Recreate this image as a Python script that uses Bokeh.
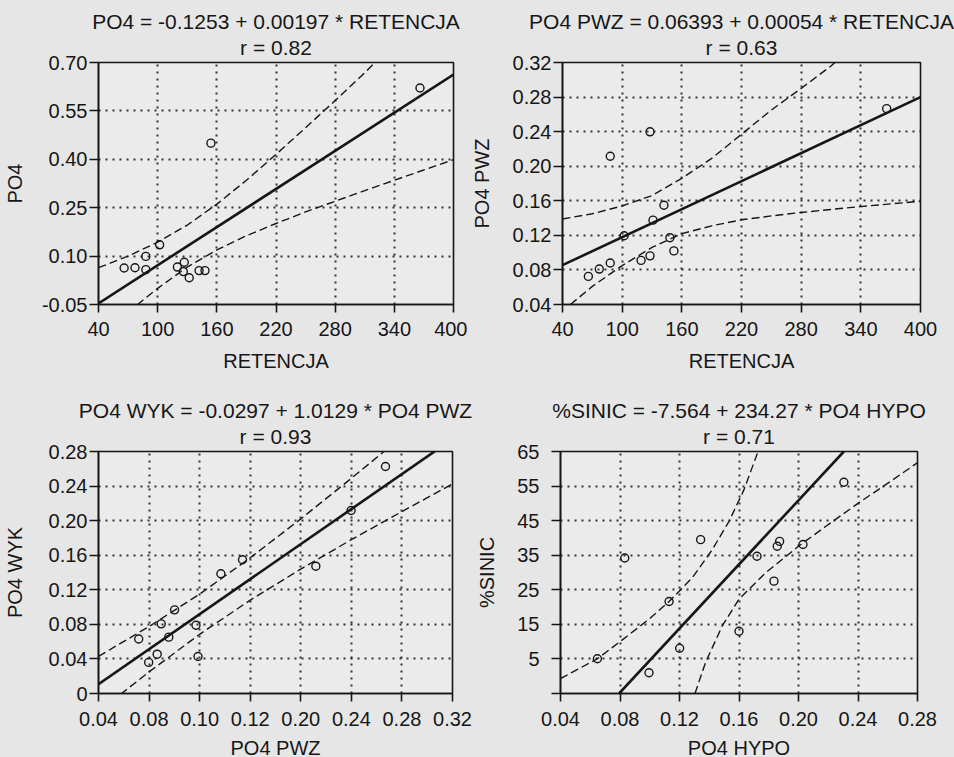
from bokeh.plotting import figure
from bokeh.models import FixedTicker, Title, Range1d
from bokeh.layouts import column, row
from bokeh.embed import file_html
from bokeh.resources import INLINE

FONT = "Liberation Sans"
INK = "#161616"
BG = "#e6e6e6"
PLOT_BG = "#ebebeb"

# ---------------- Panel 1: PO4 vs RETENCJA ----------------
p1_title = "PO4 = -0.1253 + 0.00197 * RETENCJA"
p1_r = "r = 0.82"
p1_xlabel = "RETENCJA"
p1_ylabel = "PO4"
p1_xticks = [40, 100, 160, 220, 280, 340, 400]
p1_xtick_labels = ["40", "100", "160", "220", "280", "340", "400"]
p1_yticks = [-0.05, 0.10, 0.25, 0.40, 0.55, 0.70]
p1_ytick_labels = ["-0.05", "0.10", "0.25", "0.40", "0.55", "0.70"]
p1_x = [66, 77, 88, 88, 102, 120, 127, 126, 132, 142, 148, 154, 366]
p1_y = [0.063, 0.064, 0.099, 0.058, 0.135, 0.066, 0.081, 0.052, 0.033, 0.055, 0.055, 0.45, 0.621]
p1_fit_x = [40, 400]
p1_fit_y = [-0.0465, 0.6627]
p1_up_x = [40, 70, 100, 130, 160, 190, 220, 250, 280, 310, 330]
p1_up_y = [0.064, 0.100, 0.143, 0.196, 0.261, 0.335, 0.415, 0.498, 0.582, 0.668, 0.73]
p1_lo_x = [70, 80, 100, 130, 160, 190, 220, 250, 280, 310, 340, 370, 400]
p1_lo_y = [-0.075, -0.049, 0.000, 0.066, 0.119, 0.163, 0.201, 0.237, 0.270, 0.303, 0.335, 0.367, 0.399]

# ---------------- Panel 2: PO4 PWZ vs RETENCJA ----------------
p2_title = "PO4 PWZ = 0.06393 + 0.00054 * RETENCJA"
p2_r = "r = 0.63"
p2_xlabel = "RETENCJA"
p2_ylabel = "PO4 PWZ"
p2_xticks = [40, 100, 160, 220, 280, 340, 400]
p2_xtick_labels = ["40", "100", "160", "220", "280", "340", "400"]
p2_yticks = [0.04, 0.08, 0.12, 0.16, 0.20, 0.24, 0.28, 0.32]
p2_ytick_labels = ["0.04", "0.08", "0.12", "0.16", "0.20", "0.24", "0.28", "0.32"]
p2_x = [66, 77, 88, 88, 102, 119, 128, 131, 128, 142, 148, 152, 366]
p2_y = [0.0725, 0.081, 0.088, 0.2115, 0.1196, 0.091, 0.0963, 0.1376, 0.2398, 0.1548, 0.1173, 0.102, 0.2666]
p2_fit_x = [40, 400]
p2_fit_y = [0.0855, 0.2799]
p2_up_x = [40, 70, 100, 130, 160, 190, 220, 250, 280, 310, 330]
p2_up_y = [0.139, 0.145, 0.154, 0.166, 0.186, 0.209, 0.237, 0.265, 0.290, 0.316, 0.337]
p2_lo_x = [48, 70, 100, 130, 160, 190, 220, 250, 280, 310, 340, 370, 400]
p2_lo_y = [0.040, 0.061, 0.085, 0.106, 0.122, 0.131, 0.138, 0.1425, 0.1465, 0.150, 0.1533, 0.1564, 0.1594]

# ---------------- Panel 3: PO4 WYK vs PO4 PWZ ----------------
p3_title = "PO4 WYK = -0.0297 + 1.0129 * PO4 PWZ"
p3_r = "r = 0.93"
p3_xlabel = "PO4 PWZ"
p3_ylabel = "PO4 WYK"
p3_xticks = [0.04, 0.08, 0.12, 0.16, 0.20, 0.24, 0.28, 0.32]
p3_xtick_labels = ["0.04", "0.08", "0.10", "0.12", "0.20", "0.24", "0.28", "0.32"]
p3_yticks = [0.0, 0.04, 0.08, 0.12, 0.16, 0.20, 0.24, 0.28]
p3_ytick_labels = ["0", "0.04", "0.08", "0.12", "0.16", "0.20", "0.24", "0.28"]
p3_x = [0.0718, 0.0797, 0.0864, 0.0896, 0.0956, 0.1002, 0.1171, 0.1187, 0.1368, 0.1539, 0.2119, 0.2398, 0.267]
p3_y = [0.063, 0.036, 0.0455, 0.0806, 0.0652, 0.0968, 0.079, 0.0428, 0.1385, 0.1548, 0.1473, 0.2117, 0.2627]
p3_fit_x = [0.04, 0.32]
p3_fit_y = [0.0108, 0.2944]
p3_up_x = [0.04, 0.08, 0.12, 0.16, 0.20, 0.24, 0.28]
p3_up_y = [0.043, 0.0775, 0.115, 0.157, 0.202, 0.249, 0.297]
p3_lo_x = [0.05, 0.08, 0.12, 0.16, 0.20, 0.24, 0.28, 0.32]
p3_lo_y = [-0.0095, 0.025, 0.0685, 0.108, 0.144, 0.178, 0.2105, 0.2425]

# ---------------- Panel 4: %SINIC vs PO4 HYPO ----------------
p4_title = "%SINIC = -7.564 + 234.27 * PO4 HYPO"
p4_r = "r = 0.71"
p4_xlabel = "PO4 HYPO"
p4_ylabel = "%SINIC"
p4_xticks = [0.04, 0.08, 0.12, 0.16, 0.20, 0.24, 0.28]
p4_xtick_labels = ["0.04", "0.08", "0.12", "0.16", "0.20", "0.24", "0.28"]
p4_yticks = [-5, 5, 15, 25, 35, 45, 55, 65]
p4_ytick_labels = ["", "5", "15", "25", "35", "45", "55", "65"]
p4_x = [0.0648, 0.0832, 0.0995, 0.113, 0.1201, 0.1342, 0.16, 0.1721, 0.1835, 0.1857, 0.1873, 0.203, 0.2305]
p4_y = [5.05, 34.2, 1.0, 21.6, 8.1, 39.5, 13.0, 34.7, 27.5, 37.6, 39.0, 38.1, 56.1]
p4_fit_x = [0.0794, 0.2305]
p4_fit_y = [-5.0, 65.0]
p4_up_x = [0.04, 0.0648, 0.08, 0.0995, 0.113, 0.1286, 0.142, 0.1533, 0.1633, 0.1723, 0.176]
p4_up_y = [-0.7, 5.05, 10.0, 16.5, 21.6, 28.5, 36.6, 44.8, 53.9, 64.4, 69.0]
p4_lo_x = [0.1304, 0.1376, 0.1488, 0.16, 0.1779, 0.20, 0.2182, 0.24, 0.263, 0.2808]
p4_lo_y = [-5.0, 4.1, 14.6, 22.3, 29.9, 37.6, 43.3, 50.0, 56.7, 62.0]


def make_panel(title, rline, xlabel, ylabel, xticks, xlabels, yticks, ylabels,
               px, py, fx, fy, ux, uy, lx, ly,
               frame_w, left, right, top, bottom,
               ylab_standoff, ytick_standoff, xtick_standoff, xlab_standoff):
    p = figure(frame_width=frame_w, frame_height=242,
               x_range=Range1d(xticks[0], xticks[-1]),
               y_range=Range1d(yticks[0], yticks[-1]),
               output_backend="svg", toolbar_location=None, title=None,
               min_border_left=left, min_border_right=right,
               min_border_top=top, min_border_bottom=bottom)
    p.border_fill_color = BG
    p.background_fill_color = PLOT_BG
    p.outline_line_color = INK
    p.outline_line_width = 1.6
    p.outline_line_alpha = 1.0

    for g in (p.xgrid[0], p.ygrid[0]):
        g.grid_line_color = "#202020"
        g.grid_line_width = 2
        g.grid_line_dash = "2 5"
        g.grid_line_alpha = 0.9

    p.xaxis.ticker = FixedTicker(ticks=xticks)
    p.yaxis.ticker = FixedTicker(ticks=yticks)
    p.xaxis.major_label_overrides = {t: s for t, s in zip(xticks, xlabels)}
    p.yaxis.major_label_overrides = {t: s for t, s in zip(yticks, ylabels)}

    for ax in (p.xaxis[0], p.yaxis[0]):
        ax.axis_line_color = INK
        ax.axis_line_width = 1.6
        ax.major_tick_line_color = INK
        ax.major_tick_line_width = 1.6
        ax.major_tick_in = 0
        ax.minor_tick_in = 0
        ax.minor_tick_out = 0
        ax.major_label_text_font = FONT
        ax.major_label_text_font_size = "20px"
        ax.major_label_text_color = INK
        ax.axis_label_text_font = FONT
        ax.axis_label_text_font_size = "20px"
        ax.axis_label_text_font_style = "normal"
        ax.axis_label_text_color = INK

    p.xaxis.major_tick_out = 8
    p.yaxis.major_tick_out = 9
    p.xaxis.axis_label = xlabel
    p.yaxis.axis_label = ylabel
    p.xaxis.major_label_standoff = xtick_standoff
    p.xaxis.axis_label_standoff = xlab_standoff
    p.yaxis.major_label_standoff = ytick_standoff
    p.yaxis.axis_label_standoff = ylab_standoff

    p.line(ux, uy, line_color=INK, line_width=1.4, line_dash="8 4")
    p.line(lx, ly, line_color=INK, line_width=1.4, line_dash="8 4")
    p.line(fx, fy, line_color=INK, line_width=2.6)
    p.scatter(px, py, marker="circle", size=8, fill_color=None,
              line_color=INK, line_width=1.4)

    p.add_layout(Title(text=rline, align="center", text_font=FONT,
                       text_font_size="21px", text_font_style="normal",
                       text_line_height=1.0, text_color=INK, standoff=8), "above")
    p.add_layout(Title(text=title, align="center", text_font=FONT,
                       text_font_size="21px", text_font_style="normal",
                       text_line_height=1.0, text_color=INK, standoff=-6), "above")
    return p


p1 = make_panel(p1_title, p1_r, p1_xlabel, p1_ylabel, p1_xticks, p1_xtick_labels,
                p1_yticks, p1_ytick_labels, p1_x, p1_y, p1_fit_x, p1_fit_y,
                p1_up_x, p1_up_y, p1_lo_x, p1_lo_y,
                355, 98, 14, 62, 76, 13, 2, 9, 11)
p2 = make_panel(p2_title, p2_r, p2_xlabel, p2_ylabel, p2_xticks, p2_xtick_labels,
                p2_yticks, p2_ytick_labels, p2_x, p2_y, p2_fit_x, p2_fit_y,
                p2_up_x, p2_up_y, p2_lo_x, p2_lo_y,
                358, 95, 34, 62, 76, 17, 2, 9, 11)
p3 = make_panel(p3_title, p3_r, p3_xlabel, p3_ylabel, p3_xticks, p3_xtick_labels,
                p3_yticks, p3_ytick_labels, p3_x, p3_y, p3_fit_x, p3_fit_y,
                p3_up_x, p3_up_y, p3_lo_x, p3_lo_y,
                354, 98, 21, 71, 64, 20, 2, 10, 8)
p4 = make_panel(p4_title, p4_r, p4_xlabel, p4_ylabel, p4_xticks, p4_xtick_labels,
                p4_yticks, p4_ytick_labels, p4_x, p4_y, p4_fit_x, p4_fit_y,
                p4_up_x, p4_up_y, p4_lo_x, p4_lo_y,
                357, 87, 37, 71, 64, 16, 12, 10, 8)

layout = column(row(p1, p2, spacing=0), row(p3, p4, spacing=0), spacing=0)

html = file_html(layout, INLINE)
style = "<style>html, body {margin:0; padding:0; overflow:hidden; background:#e6e6e6;}</style>"
html = html.replace("</head>", style + "</head>", 1)
open("out.html", "w").write(html)
